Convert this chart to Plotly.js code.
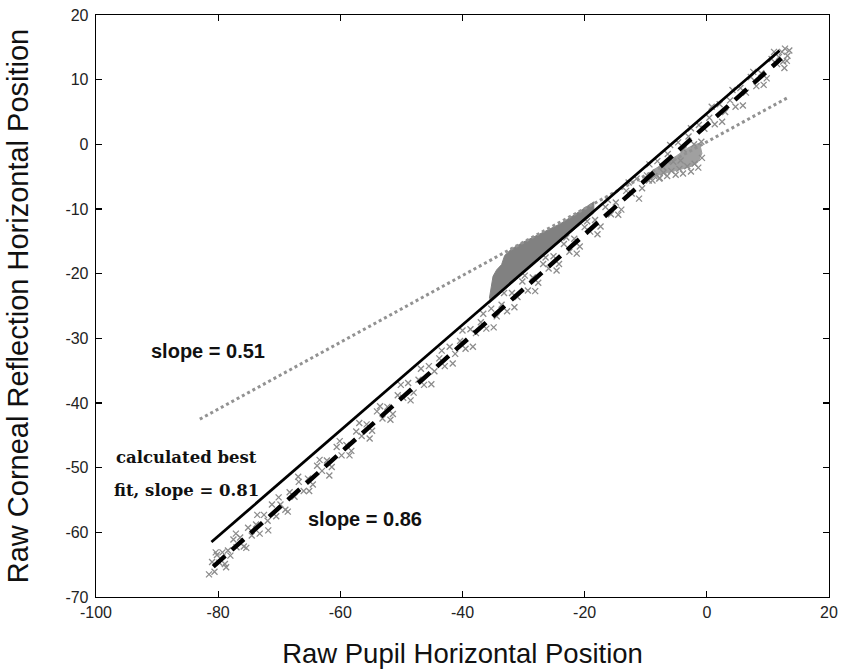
<!DOCTYPE html>
<html>
<head>
<meta charset="utf-8">
<script src="https://cdn.plot.ly/plotly-3.0.1.min.js"></script>
<style>html,body{margin:0;padding:0;background:#fff;}#chart{width:842px;height:672px;}</style>
</head>
<body>
<div id="chart"></div>
<script>
// Raw samples (pupil x, corneal reflection y)
const pupilX = [-81.5,-81,-80.6,-80.2,-79.8,-79.3,-78.9,-78.4,-78,-77.5,-77,-76.4,-75.8,-75.1,-74.5,-73.8,-73.2,-72.5,-71.9,-71.2,-70.5,-69.8,-69,-68.3,-67.5,-66.8,-66,-65.3,-64.5,-63.8,-63,-62.2,-61.4,-60.6,-59.8,-59,-58.2,-57.4,-56.5,-55.7,-54.8,-54,-53.1,-52.3,-51.4,-50.6,-49.7,-48.9,-48,-47.2,-46.3,-45.5,-44.6,-43.8,-42.9,-42.1,-41.2,-40.4,-39.5,-38.7,-37.8,-37,-36.1,-35.3,-34.4,-33.6,-32.7,-31.9,-31,-30.2,-29.3,-28.5,-27.6,-26.8,-25.9,-25.1,-24.2,-23.4,-22.5,-21.7,-20.8,-20,-19.1,-18.3,-17.4,-16.6,-15.7,-14.9,-14,-13.2,-12.3,-11.5,-10.6,-9.8,-8.9,-8.1,-7.2,-6.4,-5.5,-4.7,-3.8,-3,-2.1,-1.3,-0.4,0.4,1.3,2.1,3,3.8,4.7,5.5,6.4,7.2,8.1,8.9,9.8,10.6,11.5,12.3,13.2,
  11.8,12.8,13.5,12.5,13.1];
const crY = [-66.5,-64.6,-66.1,-63.5,-64.7,-63.1,-64.9,-62.8,-63.6,-61.1,-62.3,-60.8,-62.2,-59.3,-60.5,-58.8,-60.2,-57.3,-58.2,-55.7,-57.5,-55.7,-56.5,-53.8,-54.5,-52.2,-53.6,-51.7,-52.6,-49.7,-50.5,-48.9,-49.9,-46.8,-48.1,-46.5,-47.4,-44.4,-45.1,-43.3,-44.3,-41.3,-42.4,-40.6,-41.7,-38.8,-39.2,-36.9,-38.4,-36.4,-37.2,-34.3,-35.1,-33.1,-34.3,-31.3,-32.4,-30.4,-31.6,-28.6,-29.2,-27.5,-28.5,-25.4,-26.6,-24.8,-25.8,-23.0,-23.6,-21.2,-22.6,-20.6,-21.4,-18.5,-19.2,-17.3,-18.5,-15.4,-16.6,-14.6,-15.8,-12.8,-13.5,-11.7,-12.7,-9.7,-10.8,-9.0,-10.1,-7.2,-7.6,-5.3,-6.8,-4.8,-5.6,-2.6,-3.5,-1.5,-2.7,0.3,-0.8,1.2,0.0,3.0,2.4,4.1,3.1,6.2,5.0,6.8,5.8,8.7,8.0,10.4,9.0,11.0,10.2,13.2,12.4,14.3,13.7,
  13.5,14.8,14.5,12.8,12.9];
const pupilX2 = [-80.4,-78.7,-77.1,-75.4,-73.6,-71.8,-70.1,-68.6,-66.9,-65.1,-63.4,-61.8,-60.1,-58.5,-56.9,-55.2,-53.5,-51.8,-50.1,-48.5,-46.8,-45.1,-43.4,-41.6,-40,-38.3,-36.6,-34.9,-33.2,-31.5,-29.8,-28.1,-26.4,-24.6,-23,-21.3,-19.6,-17.9,-16.2,-14.5,-12.8,-11.1,-9.4,-7.7,-6,-4.3,-2.6,-0.9,0.8,2.5,4.2,5.9,7.6,9.3,11,12.7];
const crY2 = [-63.1,-65.4,-60.2,-62.4,-57.3,-59.7,-54.6,-56.8,-51.4,-53.6,-48.8,-51.2,-45.9,-48.1,-43.1,-45.5,-40.5,-42.6,-37.2,-39.6,-34.7,-37.1,-31.9,-33.9,-28.8,-31.3,-26.2,-28.3,-23.0,-25.2,-20.3,-22.7,-17.5,-19.5,-14.4,-16.9,-11.9,-13.9,-8.6,-10.9,-5.9,-8.4,-3.1,-5.2,-0.1,-2.5,2.5,0.4,5.8,3.5,8.4,6.0,11.2,9.2,14.3,11.8];
// Extra samples in the small cluster near x = -8..0
const pupilX3 = [-9.5,-8.6,-7.8,-7.1,-6.5,-5.8,-5.1,-4.5,-3.9,-3.2,-2.6,-2.0,-1.4,-0.8];
const crY3 = [-5.6,-4.9,-5.3,-4.4,-4.9,-4.1,-4.7,-3.8,-4.5,-3.4,-4.2,-3.0,-3.6,-2.1];

// Dense sample cluster outlines (pupil x, corneal y)
const blobX = [-35.6,-35.3,-35.0,-34.4,-33.6,-33.1,-32,-30,-28,-26,-24,-22,-20,-18.5,-18.5,-22,-26,-30,-33,-35.6];
const blobY = [-23.8,-21.8,-20.4,-19.4,-18.6,-17.2,-16.2,-15.1,-14.2,-13.3,-12.3,-11.1,-9.8,-8.9,-10.6,-13.4,-16.6,-19.8,-22.4,-24.6];
const blob2X = [-10.5,-8.5,-6.5,-4.5,-2.8,-1.5,-0.8,-1.2,-3,-5,-7,-9,-10.5];
const blob2Y = [-5.9,-4.9,-4.4,-3.9,-3.5,-2.8,-1.4,0.2,-0.5,-1.8,-2.9,-4.1,-5.9];

// Fitted lines: endpoints
const fit051X = [-83, 13.2];   const fit051Y = [-42.5, 7.2];
const fitBestX = [-81.1, 11.9]; const fitBestY = [-61.5, 14.5];
const fit086X = [-80.8, 12.2];  const fit086Y = [-65.3, 13.3];

const xTicks = [-100,-80,-60,-40,-20,0,20];
const yTicks = [-70,-60,-50,-40,-30,-20,-10,0,10,20];

const sampleMarker = {symbol:'x-thin-open', size:6, color:'#8c8c8c', line:{color:'#8c8c8c', width:1.3}};
const traces = [
  {x: blobX, y: blobY, type:'scatter', mode:'lines', fill:'toself', fillcolor:'#818181',
   line:{color:'#818181', width:1}, hoverinfo:'skip'},
  {x: blob2X, y: blob2Y, type:'scatter', mode:'lines', fill:'toself', fillcolor:'#a0a0a0',
   line:{color:'#a0a0a0', width:1}, hoverinfo:'skip'},
  {x: pupilX, y: crY, type:'scatter', mode:'markers', marker: sampleMarker},
  {x: pupilX2, y: crY2, type:'scatter', mode:'markers', marker: sampleMarker},
  {x: pupilX3, y: crY3, type:'scatter', mode:'markers', marker: sampleMarker},
  {x: fit051X, y: fit051Y, type:'scatter', mode:'lines',
   line:{color:'#929292', width:3, dash:'3px,3px'}},
  {x: fitBestX, y: fitBestY, type:'scatter', mode:'lines',
   line:{color:'#000', width:2.8}},
  {x: fit086X, y: fit086Y, type:'scatter', mode:'lines',
   line:{color:'#000', width:4.5, dash:'16px,9px'}}
];

const axisCommon = {
  showgrid:false, zeroline:false, showline:true, linecolor:'#000', linewidth:1.3,
  mirror:'ticks', ticks:'inside', ticklen:6, tickwidth:1.3, tickcolor:'#000',
  tickfont:{family:'Liberation Sans, Arial, sans-serif', size:16, color:'#222'}
};

const layout = {
  width:842, height:672,
  margin:{l:96, r:13, t:15, b:75},
  paper_bgcolor:'#fff', plot_bgcolor:'#fff',
  showlegend:false,
  xaxis: Object.assign({}, axisCommon, {
    range:[-100,20], tickvals:xTicks, ticktext:xTicks.map(String),
    title:{text:'Raw Pupil Horizontal Position', font:{family:'Liberation Sans, Arial, sans-serif', size:27.5, color:'#111'}, standoff:24}
  }),
  yaxis: Object.assign({}, axisCommon, {
    range:[-70,20], tickvals:yTicks, ticktext:yTicks.map(String),
    ticklabelstandoff:3,
    title:{text:'Raw Corneal Reflection Horizontal Position', font:{family:'Liberation Sans, Arial, sans-serif', size:29, color:'#111'}, standoff:28}
  }),
  annotations:[
    {x:-81.7, y:-31.9, xref:'x', yref:'y', text:'slope = 0.51', showarrow:false,
     font:{family:'Liberation Sans, Arial, sans-serif', size:20, color:'#111', weight:'bold'}},
    {x:-56.0, y:-58.0, xref:'x', yref:'y', text:'slope = 0.86', showarrow:false,
     font:{family:'Liberation Sans, Arial, sans-serif', size:20, color:'#111', weight:'bold'}},
    {x:-97.1, y:-48.4, xref:'x', yref:'y', xanchor:'left', text:'calculated best', showarrow:false,
     font:{family:'DejaVu Serif, serif', size:16.5, color:'#111', weight:'bold'}},
    {x:-97.3, y:-53.5, xref:'x', yref:'y', xanchor:'left', text:'fit, slope = 0.81', showarrow:false,
     font:{family:'DejaVu Serif, serif', size:16.5, color:'#111', weight:'bold'}}
  ]
};

Plotly.newPlot('chart', traces, layout, {staticPlot:true, displayModeBar:false});
</script>
</body>
</html>
